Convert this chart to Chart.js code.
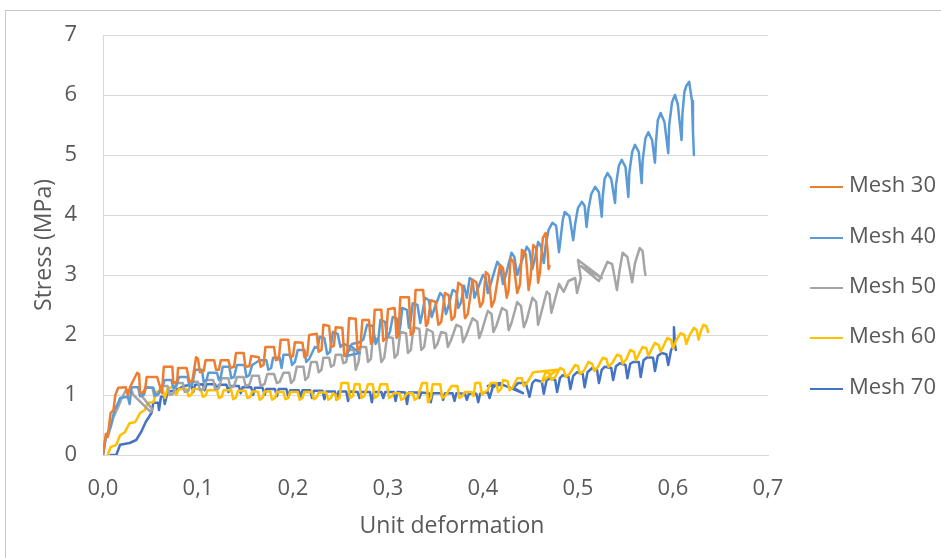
<!DOCTYPE html>
<html>
<head>
<meta charset="utf-8">
<script src="https://cdn.jsdelivr.net/npm/chart.js@4.4.1/dist/chart.umd.min.js"></script>
<style>
  html, body { margin: 0; padding: 0; background: #ffffff; }
  #wrap { position: relative; width: 941px; height: 558px; overflow: hidden; }
  #frame { position: absolute; left: 5px; top: 10px; width: 1000px; height: 700px; border: 1px solid #c8c8c8; pointer-events: none; }
  canvas { position: absolute; left: 0; top: 0; }
</style>
</head>
<body>
<div id="wrap">
  <div id="frame"></div>
  <canvas id="c" width="941" height="558"></canvas>
</div>
<script>
// ---- Data ----
const seriesNames = ["Mesh 30", "Mesh 40", "Mesh 50", "Mesh 60", "Mesh 70"];
const seriesColors = ["#ED7D31", "#5B9BD5", "#A5A5A5", "#FFC000", "#4472C4"];
const xTickValues = [0, 0.1, 0.2, 0.3, 0.4, 0.5, 0.6, 0.7];
const yTickValues = [0, 1, 2, 3, 4, 5, 6, 7];
const xAxisTitle = "Unit deformation";
const yAxisTitle = "Stress (MPa)";

const mesh30X = [0.000,0.003,0.005,0.008,0.011,0.013,0.016,0.024,0.026,0.029,0.036,0.038,0.039,0.044,0.046,0.057,0.062,0.064,0.073,0.074,0.078,0.079,0.088,0.091,0.094,0.098,0.100,0.102,0.106,0.108,0.117,0.119,0.122,0.124,0.132,0.134,0.138,0.140,0.148,0.150,0.154,0.156,0.164,0.166,0.169,0.171,0.180,0.182,0.185,0.187,0.195,0.197,0.200,0.202,0.210,0.212,0.215,0.217,0.225,0.227,0.230,0.232,0.238,0.240,0.243,0.245,0.252,0.254,0.257,0.259,0.266,0.268,0.271,0.273,0.280,0.282,0.284,0.286,0.293,0.295,0.298,0.300,0.307,0.309,0.311,0.313,0.322,0.324,0.327,0.329,0.337,0.340,0.342,0.345,0.350,0.353,0.356,0.360,0.364,0.367,0.370,0.374,0.378,0.381,0.384,0.389,0.393,0.397,0.400,0.403,0.406,0.409,0.412,0.418,0.421,0.425,0.427,0.429,0.432,0.436,0.439,0.441,0.445,0.448,0.450,0.453,0.456,0.458,0.460,0.463,0.466,0.468,0.469,0.470];
const mesh30Y = [0.00,0.35,0.30,0.70,0.75,1.00,1.12,1.13,1.00,1.15,1.37,1.35,1.03,1.05,1.30,1.30,1.03,1.47,1.47,1.20,1.22,1.45,1.45,1.22,1.24,1.63,1.60,1.38,1.40,1.58,1.58,1.42,1.42,1.58,1.58,1.45,1.47,1.70,1.70,1.47,1.48,1.65,1.63,1.47,1.50,1.80,1.80,1.58,1.60,1.92,1.92,1.63,1.65,1.88,1.87,1.63,1.66,2.00,2.02,1.72,1.75,2.17,2.15,1.80,1.82,2.13,2.12,1.65,1.70,2.28,2.27,1.75,1.80,2.25,2.25,1.85,1.90,2.42,2.42,1.90,1.95,2.43,2.45,1.95,2.00,2.63,2.63,2.00,2.05,2.75,2.75,2.15,2.20,2.58,2.55,2.17,2.22,2.70,2.66,2.25,2.30,2.87,2.82,2.28,2.35,2.92,2.88,2.47,2.55,3.05,3.00,2.47,2.58,3.17,3.12,2.62,2.75,3.28,3.22,2.70,2.85,3.42,3.35,2.75,2.95,3.50,3.45,2.87,3.05,3.62,3.70,3.40,3.10,3.15];

const mesh40X = [0.000,0.003,0.005,0.008,0.010,0.012,0.016,0.018,0.026,0.028,0.030,0.037,0.039,0.043,0.045,0.053,0.055,0.058,0.061,0.065,0.072,0.074,0.077,0.080,0.089,0.091,0.094,0.097,0.104,0.106,0.109,0.111,0.120,0.122,0.124,0.126,0.133,0.135,0.138,0.141,0.149,0.151,0.154,0.157,0.162,0.165,0.172,0.174,0.177,0.179,0.186,0.188,0.190,0.197,0.199,0.202,0.205,0.212,0.214,0.217,0.223,0.226,0.228,0.233,0.236,0.239,0.242,0.247,0.250,0.253,0.262,0.270,0.256,0.262,0.270,0.274,0.278,0.284,0.287,0.290,0.292,0.297,0.299,0.302,0.305,0.309,0.311,0.313,0.315,0.320,0.322,0.324,0.326,0.331,0.334,0.336,0.339,0.343,0.346,0.349,0.355,0.358,0.361,0.364,0.368,0.372,0.374,0.377,0.380,0.383,0.386,0.389,0.391,0.394,0.400,0.403,0.405,0.408,0.415,0.418,0.421,0.424,0.430,0.433,0.436,0.439,0.446,0.449,0.452,0.455,0.458,0.461,0.464,0.466,0.469,0.473,0.477,0.480,0.482,0.484,0.486,0.491,0.495,0.497,0.500,0.504,0.507,0.509,0.511,0.514,0.518,0.522,0.525,0.526,0.528,0.531,0.535,0.539,0.540,0.543,0.546,0.550,0.553,0.554,0.557,0.560,0.564,0.567,0.568,0.571,0.574,0.578,0.581,0.582,0.584,0.587,0.591,0.595,0.596,0.599,0.602,0.605,0.609,0.610,0.612,0.614,0.617,0.620,0.621,0.622];
const mesh40Y = [0.00,0.30,0.37,0.47,0.60,0.75,0.87,0.95,0.97,0.85,1.13,1.13,0.98,1.00,1.13,1.12,1.00,1.02,1.08,1.25,1.25,1.12,1.14,1.30,1.30,1.15,1.18,1.42,1.42,1.22,1.25,1.37,1.37,1.25,1.30,1.47,1.47,1.28,1.30,1.50,1.50,1.30,1.33,1.50,1.55,1.58,1.58,1.42,1.45,1.62,1.62,1.45,1.67,1.67,1.50,1.55,1.75,1.75,1.55,1.60,1.80,1.78,1.97,1.95,1.68,1.72,2.05,2.02,1.80,1.85,1.80,1.70,1.65,1.85,1.88,1.92,2.17,2.15,1.85,1.95,2.25,2.22,1.95,2.05,2.30,2.28,2.00,2.15,2.45,2.42,2.12,2.25,2.53,2.50,2.20,2.35,2.62,2.58,2.30,2.45,2.70,2.65,2.35,2.50,2.75,2.72,2.45,2.55,2.82,2.62,2.95,2.92,2.62,2.75,3.00,2.95,2.70,2.85,3.22,3.15,2.85,3.00,3.37,3.30,3.00,3.15,3.47,3.40,3.10,3.30,3.55,3.48,3.20,3.50,3.75,3.87,3.82,3.38,3.65,3.92,4.05,3.98,3.58,3.85,4.12,4.22,4.15,3.80,4.10,4.35,4.47,4.38,3.97,4.30,4.60,4.70,4.60,4.20,4.50,4.82,4.92,4.80,4.30,4.70,5.05,5.17,5.05,4.53,4.90,5.28,5.38,5.25,4.87,5.20,5.58,5.70,5.55,5.03,5.50,5.88,6.00,5.85,5.25,5.70,6.05,6.15,6.22,5.90,5.40,5.00];

const mesh50X = [0.000,0.003,0.006,0.011,0.016,0.019,0.024,0.030,0.032,0.050,0.052,0.040,0.045,0.052,0.054,0.058,0.061,0.068,0.070,0.074,0.077,0.084,0.086,0.090,0.093,0.100,0.102,0.106,0.109,0.116,0.118,0.122,0.125,0.132,0.134,0.138,0.141,0.148,0.150,0.154,0.157,0.164,0.166,0.170,0.173,0.180,0.183,0.186,0.190,0.196,0.198,0.201,0.204,0.211,0.213,0.216,0.219,0.225,0.227,0.230,0.232,0.238,0.240,0.243,0.245,0.251,0.253,0.256,0.258,0.264,0.266,0.269,0.271,0.277,0.279,0.282,0.284,0.290,0.293,0.296,0.299,0.305,0.307,0.310,0.313,0.319,0.321,0.324,0.327,0.333,0.335,0.338,0.341,0.347,0.349,0.352,0.356,0.361,0.363,0.366,0.372,0.377,0.379,0.382,0.389,0.394,0.396,0.399,0.405,0.409,0.411,0.414,0.420,0.425,0.427,0.430,0.436,0.440,0.443,0.446,0.452,0.456,0.458,0.461,0.467,0.470,0.472,0.475,0.480,0.485,0.490,0.497,0.499,0.503,0.500,0.525,0.503,0.522,0.525,0.531,0.536,0.541,0.544,0.547,0.552,0.557,0.560,0.565,0.568,0.570,0.571];
const mesh50Y = [0.00,0.30,0.35,0.63,0.80,0.92,1.08,1.08,1.00,0.72,0.76,1.00,1.12,1.12,0.98,1.00,1.15,1.15,1.00,1.02,1.20,1.20,1.05,1.07,1.22,1.22,1.08,1.10,1.25,1.25,1.10,1.12,1.28,1.28,1.12,1.15,1.30,1.30,1.15,1.17,1.32,1.32,1.15,1.18,1.35,1.35,1.20,1.22,1.37,1.37,1.20,1.25,1.47,1.47,1.25,1.30,1.55,1.55,1.38,1.42,1.62,1.62,1.47,1.50,1.67,1.67,1.53,1.55,1.75,1.75,1.42,1.55,1.80,1.80,1.55,1.60,1.95,1.93,1.55,1.62,1.97,1.95,1.62,1.68,2.05,2.03,1.70,1.75,2.13,2.10,1.75,1.80,2.10,2.05,1.78,1.85,2.05,2.03,1.80,1.90,2.17,2.13,1.88,1.98,2.28,2.22,1.95,2.08,2.40,2.35,2.05,2.15,2.45,2.40,2.08,2.20,2.55,2.48,2.13,2.25,2.62,2.55,2.17,2.35,2.72,2.68,2.37,2.55,2.85,2.72,2.90,2.95,2.70,2.95,3.25,2.95,3.15,2.90,3.00,3.22,3.18,2.75,3.10,3.37,3.30,2.88,3.20,3.45,3.40,3.10,3.00];

const mesh60X = [0.005,0.008,0.014,0.018,0.023,0.028,0.034,0.039,0.044,0.047,0.053,0.056,0.063,0.065,0.068,0.075,0.077,0.080,0.088,0.090,0.093,0.095,0.103,0.105,0.108,0.110,0.120,0.122,0.125,0.127,0.135,0.137,0.140,0.142,0.150,0.152,0.155,0.157,0.163,0.165,0.168,0.170,0.176,0.178,0.181,0.183,0.190,0.192,0.195,0.197,0.205,0.207,0.210,0.212,0.220,0.222,0.225,0.227,0.235,0.237,0.240,0.242,0.245,0.246,0.249,0.251,0.258,0.260,0.263,0.265,0.270,0.272,0.275,0.279,0.284,0.286,0.289,0.292,0.299,0.301,0.304,0.306,0.312,0.314,0.317,0.320,0.326,0.328,0.331,0.336,0.341,0.342,0.345,0.347,0.355,0.357,0.360,0.367,0.373,0.375,0.378,0.381,0.388,0.390,0.392,0.397,0.399,0.402,0.405,0.408,0.414,0.416,0.419,0.421,0.426,0.428,0.431,0.436,0.441,0.443,0.446,0.453,0.478,0.462,0.466,0.470,0.472,0.476,0.481,0.485,0.487,0.491,0.497,0.500,0.502,0.506,0.511,0.515,0.517,0.521,0.526,0.530,0.532,0.536,0.541,0.545,0.547,0.551,0.555,0.559,0.561,0.564,0.568,0.572,0.574,0.577,0.581,0.585,0.587,0.590,0.594,0.598,0.600,0.603,0.608,0.612,0.614,0.617,0.622,0.625,0.627,0.629,0.632,0.635,0.637];
const mesh60Y = [0.00,0.13,0.17,0.33,0.38,0.53,0.55,0.70,0.75,0.87,0.88,1.05,1.08,0.95,1.10,1.15,1.00,1.10,1.10,0.98,1.00,1.10,1.10,0.97,0.99,1.08,1.08,0.95,0.97,1.08,1.08,0.93,0.96,1.07,1.07,0.95,0.97,1.06,1.06,0.92,0.95,1.06,1.06,0.92,0.95,1.05,1.05,0.93,0.95,1.05,1.05,0.92,0.95,1.05,1.05,0.93,0.96,1.04,1.04,0.92,0.95,1.03,1.00,0.92,0.95,1.20,1.20,0.95,0.98,1.18,1.18,0.95,0.98,1.18,1.18,0.95,0.98,1.18,1.18,0.95,0.98,1.03,1.03,0.92,0.95,1.03,1.03,0.92,0.95,1.20,1.20,0.88,0.95,1.18,1.18,0.95,0.98,1.15,1.15,0.95,0.98,1.05,1.05,0.98,1.20,1.20,1.00,1.05,1.08,1.20,1.20,1.05,1.10,1.25,1.23,1.08,1.12,1.28,1.28,1.15,1.20,1.38,1.42,1.22,1.38,1.36,1.25,1.30,1.45,1.42,1.30,1.35,1.50,1.48,1.35,1.40,1.55,1.52,1.40,1.47,1.62,1.60,1.47,1.53,1.67,1.65,1.52,1.60,1.75,1.72,1.58,1.68,1.80,1.78,1.65,1.75,1.87,1.83,1.72,1.82,1.95,1.92,1.78,1.90,2.03,2.00,1.85,1.98,2.12,2.08,1.92,2.05,2.17,2.15,2.05];

const mesh70X = [0.008,0.014,0.018,0.028,0.035,0.040,0.045,0.051,0.053,0.058,0.059,0.061,0.064,0.065,0.068,0.076,0.079,0.085,0.093,0.095,0.097,0.105,0.107,0.109,0.118,0.120,0.122,0.130,0.132,0.134,0.143,0.145,0.147,0.156,0.158,0.160,0.168,0.170,0.172,0.181,0.183,0.185,0.193,0.195,0.197,0.206,0.208,0.210,0.218,0.220,0.222,0.231,0.233,0.235,0.244,0.246,0.248,0.256,0.258,0.260,0.268,0.270,0.272,0.281,0.283,0.285,0.293,0.295,0.297,0.306,0.308,0.310,0.318,0.320,0.322,0.331,0.333,0.335,0.343,0.345,0.347,0.356,0.358,0.360,0.368,0.370,0.372,0.381,0.383,0.385,0.393,0.395,0.397,0.405,0.407,0.410,0.418,0.405,0.421,0.442,0.432,0.437,0.445,0.449,0.452,0.455,0.462,0.464,0.467,0.471,0.476,0.478,0.481,0.484,0.490,0.492,0.495,0.499,0.505,0.507,0.510,0.515,0.520,0.522,0.525,0.528,0.535,0.537,0.540,0.544,0.550,0.552,0.555,0.558,0.564,0.566,0.569,0.573,0.579,0.581,0.584,0.588,0.593,0.595,0.598,0.600,0.601,0.602,0.603];
const mesh70Y = [0.00,0.00,0.17,0.20,0.25,0.38,0.55,0.70,0.87,0.87,0.75,0.97,0.97,0.85,1.05,1.08,1.10,1.15,1.17,1.05,1.17,1.18,1.08,1.18,1.18,1.08,1.17,1.17,1.05,1.15,1.15,1.03,1.13,1.13,1.00,1.12,1.12,1.00,1.10,1.10,0.98,1.10,1.10,0.97,1.08,1.08,0.97,1.08,1.08,0.95,1.07,1.07,0.93,1.06,1.06,0.92,1.06,1.06,0.90,1.06,1.05,0.95,1.05,1.05,0.88,1.05,1.05,0.95,1.05,1.05,0.90,1.05,1.04,0.85,1.04,1.04,0.95,1.04,1.03,0.88,1.03,1.03,0.92,1.03,1.03,0.90,1.03,1.02,0.92,1.02,1.02,0.88,1.02,1.05,0.95,1.12,1.20,1.15,1.17,1.03,1.12,1.20,1.20,0.97,1.20,1.25,1.22,1.02,1.25,1.28,1.25,1.05,1.28,1.33,1.30,1.10,1.32,1.38,1.35,1.13,1.38,1.45,1.42,1.20,1.42,1.47,1.45,1.25,1.48,1.53,1.50,1.28,1.52,1.55,1.55,1.30,1.58,1.63,1.62,1.40,1.65,1.70,1.68,1.50,1.75,1.80,2.13,1.85,1.75];

const seriesX = [mesh30X, mesh40X, mesh50X, mesh60X, mesh70X];
const seriesY = [mesh30Y, mesh40Y, mesh50Y, mesh60Y, mesh70Y];

// ---- Chart ----
const FONT = "'Open Sans', 'Liberation Sans', sans-serif";
const TXT = "#595959";

const datasets = seriesNames.map((name, i) => ({
  label: name,
  data: seriesX[i].map((x, j) => ({ x: x, y: seriesY[i][j] })),
  borderColor: seriesColors[i],
  backgroundColor: seriesColors[i],
  borderWidth: 2.5,
  borderJoinStyle: 'round',
  borderCapStyle: 'round',
  pointRadius: 0,
  showLine: true,
  tension: 0,
  fill: false
}));

const decorPlugin = {
  id: 'decor',
  afterDraw(chart) {
    const ctx = chart.ctx;
    const ys = [186, 237, 287, 337, 388];
    ctx.save();
    ctx.font = "22px " + FONT;
    ctx.textBaseline = "middle";
    ctx.textAlign = "left";
    chart.data.datasets.forEach((ds, i) => {
      ctx.strokeStyle = ds.borderColor;
      ctx.lineWidth = 2;
      ctx.beginPath();
      ctx.moveTo(810, ys[i] + 1);
      ctx.lineTo(843, ys[i] + 1);
      ctx.stroke();
      ctx.fillStyle = TXT;
      ctx.fillText(ds.label, 849, ys[i]);
    });
    // x axis title (Excel places it slightly right of the plot centre)
    ctx.font = "23px " + FONT;
    ctx.textAlign = "center";
    ctx.fillText(xAxisTitle, 452, 526);
    ctx.restore();
  }
};

new Chart(document.getElementById('c'), {
  type: 'scatter',
  data: { datasets: datasets },
  plugins: [decorPlugin],
  options: {
    responsive: false,
    animation: false,
    layout: { padding: { left: 0, top: 35, right: 173, bottom: 0 } },
    plugins: {
      legend: { display: false },
      tooltip: { enabled: false }
    },
    scales: {
      x: {
        type: 'linear',
        min: 0, max: 0.7,
        afterBuildTicks: (axis) => { axis.ticks = xTickValues.map(v => ({ value: v })); },
        afterFit: (axis) => { axis.height = 103; },
        ticks: {
          color: TXT,
          font: { family: FONT, size: 22 },
          padding: 21,
          maxRotation: 0,
          callback: (v) => Number(v).toFixed(1).replace('.', ',')
        },
        grid: { display: false, drawTicks: false },
        border: { display: true, color: '#d9d9d9', width: 1 },
        title: { display: false, text: xAxisTitle }
      },
      y: {
        type: 'linear',
        min: 0, max: 7,
        afterBuildTicks: (axis) => { axis.ticks = yTickValues.map(v => ({ value: v })); },
        afterFit: (axis) => { axis.width = 103; axis.paddingTop = 0; axis.paddingBottom = 0; },
        ticks: {
          color: TXT,
          font: { family: FONT, size: 22 },
          padding: 26,
          callback: (v) => String(v)
        },
        grid: { color: '#d9d9d9', lineWidth: 1, drawTicks: false },
        border: { display: true, color: '#d9d9d9', width: 1 },
        title: {
          display: true,
          text: yAxisTitle,
          color: TXT,
          font: { family: FONT, size: 23 },
          padding: { top: 31, bottom: 0 }
        }
      }
    }
  }
});
</script>
</body>
</html>
